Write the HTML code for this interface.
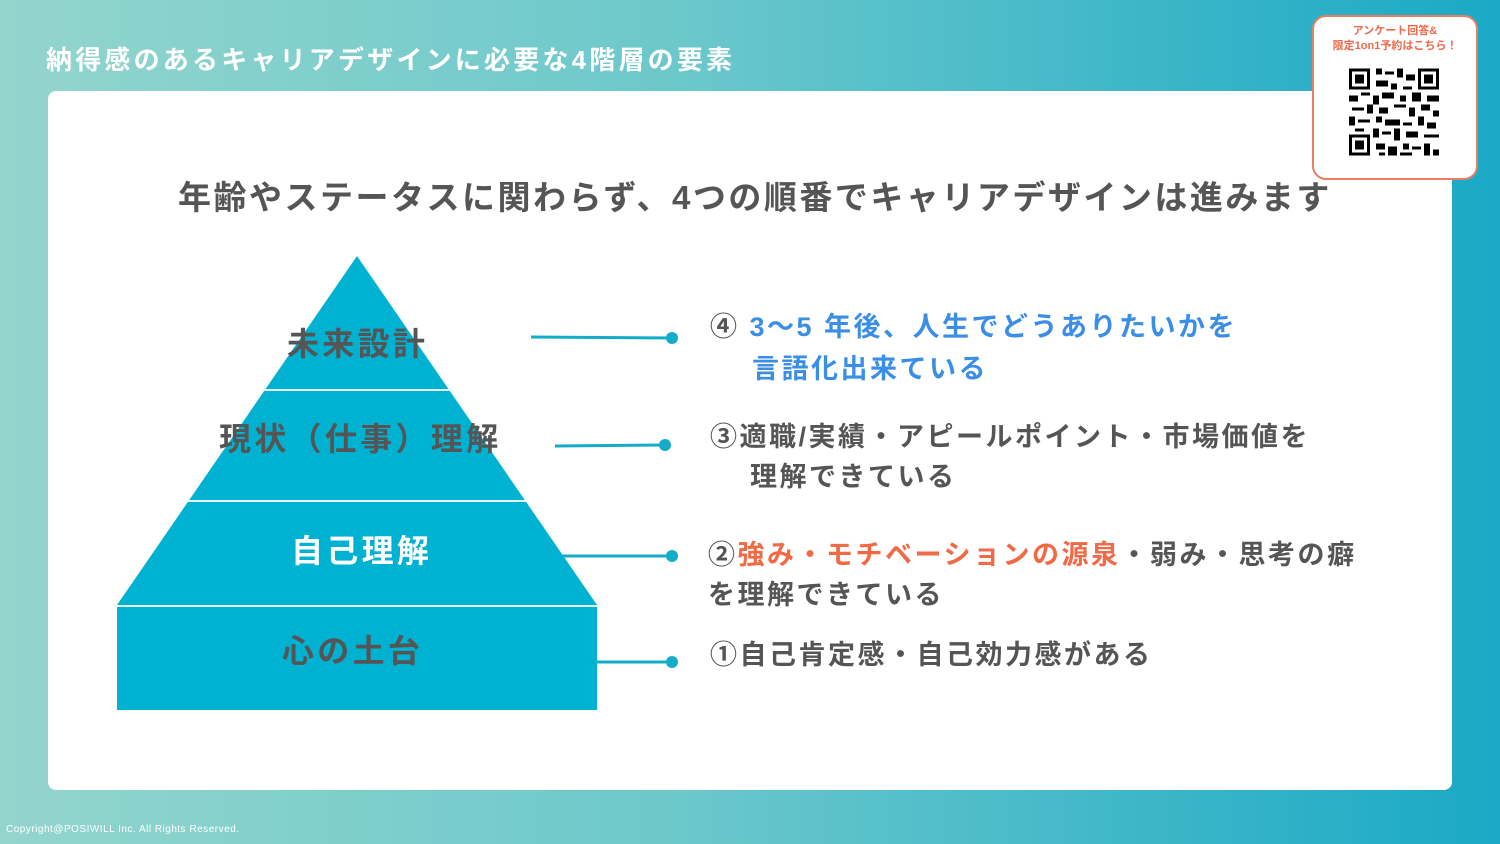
<!DOCTYPE html>
<html><head><meta charset="utf-8"><style>
html,body{margin:0;padding:0}
body{width:1500px;height:844px;position:relative;overflow:hidden;background:linear-gradient(90deg,#93d5cd 0%,#6cc8cb 45%,#1aa9c6 100%);font-family:"Liberation Sans","Noto Sans CJK JP",sans-serif;font-weight:bold}
.t{position:absolute;white-space:nowrap;letter-spacing:2.5px}
</style></head><body>
<div class="t" style="left:46px;top:40px;font-size:26px;color:#fff;letter-spacing:3.2px">納得感のあるキャリアデザインに必要な4階層の要素</div>
<div style="position:absolute;left:48px;top:91px;width:1404px;height:699px;background:#fff;border-radius:8px"></div>
<div class="t" style="left:178px;top:171px;font-size:33px;color:#555">年齢やステータスに関わらず、4つの順番でキャリアデザインは進みます</div>
<svg style="position:absolute;left:0;top:0" width="1500" height="844">
<polygon points="357,256 117,605 597,605" fill="#00b2d1"/>
<rect x="117" y="605" width="480" height="105" fill="#00b2d1"/>
<line x1="263" y1="390" x2="452" y2="390" stroke="#e6f7fa" stroke-width="2"/>
<line x1="187" y1="501" x2="527" y2="501" stroke="#e6f7fa" stroke-width="2"/>
<line x1="115" y1="606" x2="599" y2="606" stroke="#e6f7fa" stroke-width="2"/>
<g stroke="#13adc9" stroke-width="3" fill="#13adc9">
<line x1="531" y1="337" x2="672" y2="338"/><circle cx="672" cy="338" r="6" stroke="none"/>
<line x1="555" y1="446" x2="665" y2="445"/><circle cx="665" cy="445" r="6" stroke="none"/>
<line x1="562" y1="556" x2="672" y2="556"/><circle cx="672" cy="556" r="6" stroke="none"/>
<line x1="597" y1="662" x2="672" y2="662"/><circle cx="672" cy="662" r="6" stroke="none"/>
</g>
</svg>
<div class="t" style="left:287px;top:319px;font-size:32px;color:#555;letter-spacing:3.3px">未来設計</div>
<div class="t" style="left:219px;top:414px;font-size:32px;color:#555;letter-spacing:3.3px">現状（仕事）理解</div>
<div class="t" style="left:291px;top:526px;font-size:32px;color:#fff;letter-spacing:3.3px">自己理解</div>
<div class="t" style="left:282px;top:626px;font-size:32px;color:#555;letter-spacing:3.3px">心の土台</div>
<div class="t" style="left:710px;top:305px;font-size:27px;color:#555">④<span style="color:#3a8ee6"> 3〜5 年後、人生でどうありたいかを</span></div>
<div class="t" style="left:752px;top:347px;font-size:27px;color:#3a8ee6">言語化出来ている</div>
<div class="t" style="left:710px;top:415px;font-size:27px;color:#555">③適職/実績・アピールポイント・市場価値を</div>
<div class="t" style="left:750px;top:455px;font-size:27px;color:#555">理解できている</div>
<div class="t" style="left:708px;top:533px;font-size:27px;color:#555">②<span style="color:#f06a45">強み・モチベーションの源泉</span>・弱み・思考の癖</div>
<div class="t" style="left:708px;top:573px;font-size:27px;color:#555">を理解できている</div>
<div class="t" style="left:710px;top:633px;font-size:27px;color:#555">①自己肯定感・自己効力感がある</div>
<div style="position:absolute;left:1312px;top:15px;width:162px;height:161px;background:#fff;border:2px solid #ec7d60;border-radius:14px"></div>
<div class="t" style="left:1314px;top:24px;width:162px;text-align:center;font-size:11px;line-height:15px;color:#ec6a4a;letter-spacing:0">アンケート回答&amp;<br>限定1on1予約はこちら！</div>
<svg style="position:absolute;left:1349px;top:68px" width="90" height="88" viewBox="0 0 30 29">
<rect width="30" height="29" fill="#fff"/>
<g fill="#000">
<rect x="0" y="0" width="7" height="7"/><rect x="23" y="0" width="7" height="7"/><rect x="0" y="22" width="7" height="7"/>
</g>
<g fill="#fff"><rect x="1" y="1" width="5" height="5"/><rect x="24" y="1" width="5" height="5"/><rect x="1" y="23" width="5" height="5"/></g>
<g fill="#000"><rect x="2" y="2" width="3" height="3"/><rect x="25" y="2" width="3" height="3"/><rect x="2" y="24" width="3" height="3"/>
<path d="M9 0h2v2h-2zM12 1h3v1h-3zM16 0h2v3h-2zM19 2h3v2h-3zM9 4h4v2h-4zM14 5h2v2h-2zM18 6h3v1h-3zM0 9h3v2h-3zM4 8h3v1h-3zM8 9h2v3h-2zM11 8h4v2h-4zM17 9h2v2h-2zM21 8h3v3h-3zM26 9h4v2h-4zM1 13h4v1h-4zM6 12h2v3h-2zM10 13h3v2h-3zM15 12h4v1h-4zM20 13h2v3h-2zM24 12h3v2h-3zM28 14h2v2h-2zM0 16h2v3h-2zM3 17h4v1h-4zM9 16h2v2h-2zM12 17h5v2h-5zM18 18h3v1h-3zM23 16h2v3h-2zM26 18h3v2h-3zM2 20h3v1h-3zM8 20h2v3h-2zM11 21h3v1h-3zM15 20h2v4h-2zM19 21h4v2h-4zM25 22h5v1h-5zM9 25h3v2h-3zM13 26h3v3h-3zM18 25h2v2h-2zM21 26h3v1h-3zM25 25h2v4h-2zM28 27h2v2h-2zM10 28h2v1h-2zM17 28h4v1h-4z"/></g>
</svg>
<div class="t" style="left:6px;top:824px;font-size:10px;font-weight:normal;color:#fff;letter-spacing:0.5px">Copyright@POSIWILL Inc. All Rights Reserved.</div>
</body></html>
